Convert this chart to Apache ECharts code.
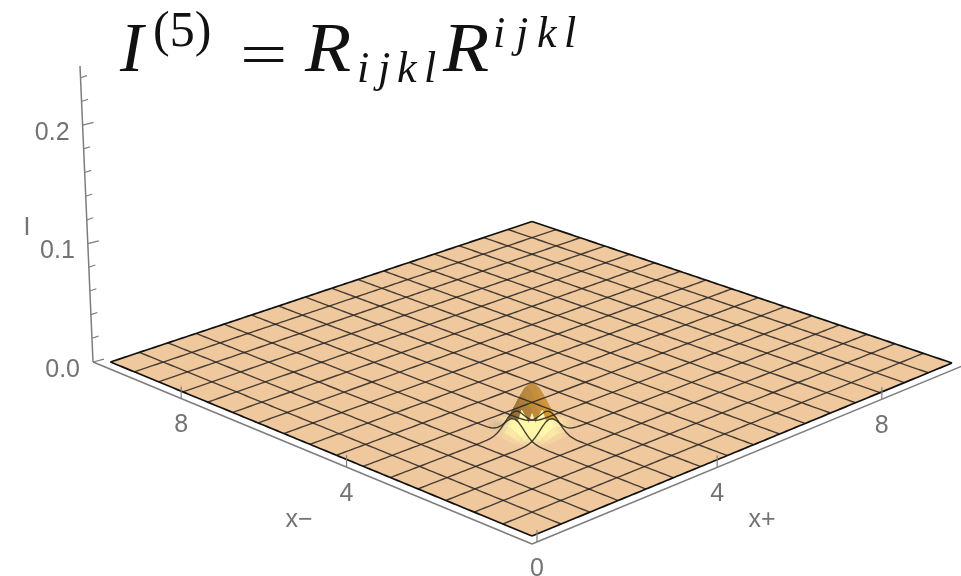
<!DOCTYPE html>
<html>
<head>
<meta charset="utf-8">
<style>
  html, body { margin: 0; padding: 0; background: #fff; }
  #chart { width: 961px; height: 576px; }
</style>
<script src="https://cdn.jsdelivr.net/npm/echarts@6/dist/echarts.min.js"></script>
</head>
<body>
<div id="chart"></div>
<script>
// values
const cellCount = 16;
const xMin = 0.1;
const xMax = 10.07;
const xPlusTicks = [0, 4, 8];
const xMinusTicks = [4, 8];
const zMinorTicks = [0.02, 0.04, 0.06, 0.08, 0.12, 0.14, 0.16, 0.18, 0.22, 0.24];
const zMajorTicks = [0, 0.1, 0.2];
const zTickLabels = ['0.0', '0.1', '0.2'];
const zAxisTop = 0.25;

// bump height in thousandths. Row = |i + j|, column = floor(|i - j| / 2),
// where i, j are steps of 1/8 cell from the bump centre
const bumpCentreCell = 4.5;
const bumpHeights = [
  [41.0, 37.2, 27.8, 17.1, 8.6, 3.6, 1.2, 0.3, 0.1],
  [38.3, 31.5, 21.3, 11.9, 5.4, 2.0, 0.6, 0.2],
  [34.4, 31.2, 23.3, 14.3, 7.2, 3.0, 1.0, 0.3, 0.1],
  [27.0, 22.2, 15.0, 8.4, 3.9, 1.4, 0.4, 0.1],
  [20.5, 18.6, 13.9, 8.5, 4.3, 1.8, 0.6, 0.2, 0],
  [13.5, 11.1, 7.5, 4.2, 1.9, 0.7, 0.2, 0.1],
  [8.6, 7.8, 5.8, 3.6, 1.8, 0.7, 0.3, 0.1, 0],
  [4.8, 3.9, 2.7, 1.5, 0.7, 0.3, 0.1, 0],
  [2.5, 2.3, 1.7, 1.0, 0.5, 0.2, 0.1, 0, 0],
  [1.2, 1.0, 0.7, 0.4, 0.2, 0.1, 0, 0],
  [0.5, 0.5, 0.4, 0.2, 0.1, 0, 0, 0, 0],
  [0.2, 0.2, 0.1, 0.1, 0, 0, 0, 0],
  [0.1, 0.1, 0.1, 0, 0, 0, 0, 0, 0]
];

// projection of the 3d box onto the flat page
const front = [532, 536], right = [952, 363], back = [532, 221.5], left = [110.5, 362];
const axisGap = 0.33;
const grey = '#7d7d7d';
const labelColor = '#737373';
const labelFont = '25px "Liberation Sans", sans-serif';
const baseColor = [240, 200, 158];

let sx = front[0] - right[0] + back[0] - left[0];
let sy = front[1] - right[1] + back[1] - left[1];
let dx1 = right[0] - back[0], dx2 = left[0] - back[0];
let dy1 = right[1] - back[1], dy2 = left[1] - back[1];
let den = dx1 * dy2 - dx2 * dy1;
let g = (sx * dy2 - dx2 * sy) / den;
let h = (dx1 * sy - sx * dy1) / den;
let a = right[0] - front[0] + g * right[0];
let b = left[0] - front[0] + h * left[0];
let d = right[1] - front[1] + g * right[1];
let e = left[1] - front[1] + h * left[1];

function heightAt(cu, cv) {
  let i = Math.round((cu - bumpCentreCell) * 8);
  let j = Math.round((cv - bumpCentreCell) * 8);
  let row = bumpHeights[Math.abs(i + j)];
  if (!row) return 0;
  let val = row[Math.floor(Math.abs(i - j) / 2)];
  return val ? val / 1000 : 0;
}

// cu, cv in mesh cells, z in plot units
function project(cu, cv, z) {
  let u = cu / cellCount, v = cv / cellCount;
  let w = g * u + h * v + 1;
  let zScale = 1184 * (h + 1) / w;
  return [
    (a * u + b * v + front[0]) / w,
    (d * u + e * v + front[1]) / w - z * zScale
  ];
}

function valueToCell(x) {
  return (x - xMin) / (xMax - xMin) * cellCount;
}

function zAxisPoint(z) {
  return [93 - 52 * z, 362 - 1184 * z];
}

function rgb(c) {
  return 'rgb(' + c.map(Math.round).join(',') + ')';
}

function mix(p, q, t) {
  t = Math.max(0, Math.min(1, t));
  return [p[0] + (q[0] - p[0]) * t, p[1] + (q[1] - p[1]) * t, p[2] + (q[2] - p[2]) * t];
}

// lighting of the bump: brown cap above, pale glow below, faint shadow on the left
function bumpColor(px, py, height) {
  let hh = height * 1000;
  if (py < 417) {
    let dark = px < 530 ? mix([118, 90, 50], [180, 132, 60], (px - 505) / 25)
      : mix([180, 132, 60], [222, 156, 56], (px - 530) / 22);
    dark = mix(dark, [205, 150, 70], (417 - py) / 60);
    return rgb(mix(baseColor, dark, hh / 5));
  }
  let glow = 1 - Math.hypot((px - 532) / 40, (py - 424) / 24);
  let pale = mix(baseColor, [255, 247, 170], glow * 1.9);
  let shade = 1 - Math.hypot((px - 499) / 13, (py - 425) / 8);
  if (shade > 0) pale = mix(pale, [175, 155, 135], shade * 0.5);
  return rgb(pale);
}

// data for the marks
let baseCells = [];
for (let i = 0; i < cellCount; i++) {
  for (let j = 0; j < cellCount; j++) baseCells.push([i, j]);
}
let bumpFacets = [];
for (let i = -14; i < 14; i++) {
  for (let j = -14; j < 14; j++) bumpFacets.push([i, j]);
}
bumpFacets.sort(function (p, q) { return (q[0] + q[1]) - (p[0] + p[1]); });

let meshLines = [];
for (let k = 1; k < cellCount; k++) {
  meshLines.push([0, k]);
  meshLines.push([1, k]);
}
let borderLines = [[0, 0], [0, cellCount], [1, 0], [1, cellCount]];

function meshPoints(family, k, api) {
  let pts = [];
  for (let s = 0; s <= cellCount * 8; s++) {
    let t = s / 8;
    let cu = family === 0 ? k : t;
    let cv = family === 0 ? t : k;
    pts.push(api.coord(project(cu, cv, heightAt(cu, cv))));
  }
  return pts;
}

function renderBase(params, api) {
  let i = api.value(0), j = api.value(1);
  let pts = [[i, j], [i + 1, j], [i + 1, j + 1], [i, j + 1]].map(function (c) {
    return api.coord(project(c[0], c[1], 0));
  });
  return {
    type: 'polygon',
    shape: { points: pts },
    style: { fill: rgb(baseColor), stroke: rgb(baseColor), lineWidth: 0.5 }
  };
}

function renderFacet(params, api) {
  let i = api.value(0), j = api.value(1);
  let corners = [[i, j], [i + 1, j], [i + 1, j + 1], [i, j + 1]];
  let sum = 0, px = 0, py = 0;
  let pts = corners.map(function (c) {
    let cu = bumpCentreCell + c[0] / 8, cv = bumpCentreCell + c[1] / 8;
    let z = heightAt(cu, cv);
    let p = project(cu, cv, z);
    sum += z; px += p[0]; py += p[1];
    return api.coord(p);
  });
  let color = bumpColor(px / 4, py / 4, sum / 4);
  return {
    type: 'polygon',
    shape: { points: pts },
    style: { fill: color, stroke: color, lineWidth: 0.8 }
  };
}

function renderMesh(params, api) {
  return {
    type: 'polyline',
    shape: { points: meshPoints(api.value(0), api.value(1), api) },
    style: { fill: null, stroke: 'rgba(40,36,32,0.85)', lineWidth: 1.4 }
  };
}

function renderBorder(params, api) {
  return {
    type: 'polyline',
    shape: { points: meshPoints(api.value(0), api.value(1), api) },
    style: { fill: null, stroke: '#111', lineWidth: 1.7 }
  };
}

function segment(api, p, q, width) {
  return {
    type: 'line',
    shape: { x1: p[0], y1: p[1], x2: q[0], y2: q[1] },
    style: { stroke: grey, lineWidth: width }
  };
}

function renderAxes(params, api) {
  let lo = -axisGap, hi = cellCount + axisGap;
  let corner = api.coord(project(lo, lo, 0));
  return {
    type: 'group',
    children: [
      segment(api, api.coord(project(hi, lo, 0)), corner, 1.5),
      segment(api, api.coord(project(lo, hi, 0)), corner, 1.5),
      segment(api, api.coord(zAxisPoint(0)), api.coord(zAxisPoint(zAxisTop)), 1.5)
    ]
  };
}

function tickText(text, x, y, align) {
  return {
    type: 'text',
    style: { text: text, x: x, y: y, fill: labelColor, font: labelFont, align: align, verticalAlign: 'middle' }
  };
}

function renderXTick(params, api) {
  let family = api.value(0), val = api.value(1);
  let c = valueToCell(val);
  let p = family === 0 ? project(c, -axisGap, 0) : project(-axisGap, c, 0);
  p = api.coord(p);
  return {
    type: 'group',
    children: [
      segment(api, p, [p[0], p[1] - 12], 1.2),
      tickText(String(val), p[0], p[1] + 27, 'center')
    ]
  };
}

function renderZMinor(params, api) {
  let p = api.coord(zAxisPoint(api.value(0)));
  return segment(api, p, [p[0] + 6.5, p[1] - 2.2], 1.1);
}

function renderZMajor(params, api) {
  let idx = api.value(0);
  let p = api.coord(zAxisPoint(zMajorTicks[idx]));
  return {
    type: 'group',
    children: [
      segment(api, p, [p[0] + 11, p[1] - 2.8], 1.2),
      tickText(zTickLabels[idx], p[0] - 13, p[1] + 8, 'right')
    ]
  };
}

function customSeries(data, renderItem) {
  return {
    type: 'custom',
    coordinateSystem: 'cartesian2d',
    data: data,
    renderItem: renderItem,
    silent: true,
    clip: false,
    animation: false,
    encode: { x: 0, y: 1 }
  };
}

const serif = '"Liberation Serif", "DejaVu Serif", serif';

function titleText(text, x, y, size, italic, scaleX) {
  return {
    type: 'text',
    x: x,
    y: y,
    scaleX: scaleX || 1,
    style: {
      text: text, fill: '#111',
      font: (italic ? 'italic ' : '') + size + 'px ' + serif,
      verticalAlign: 'middle'
    },
    silent: true
  };
}

function axisLabel(text, x, y) {
  return {
    type: 'text',
    style: { text: text, x: x, y: y, fill: labelColor, font: labelFont, align: 'center', verticalAlign: 'middle' },
    silent: true
  };
}

let chart = echarts.init(document.querySelector('#chart'));

chart.setOption({
  animation: false,
  backgroundColor: '#fff',
  grid: { left: 0, right: 0, top: 0, bottom: 0 },
  xAxis: { type: 'value', min: 0, max: 961, show: false },
  yAxis: { type: 'value', min: 0, max: 576, inverse: true, show: false },
  graphic: [
    titleText('I', 120, 53, 70, true),
    titleText('(5)', 153, 33, 50, false),
    titleText('=', 240, 58, 60, false, 1.4),
    titleText('R', 305, 53, 70, true, 1.08),
    titleText('i', 357, 70, 44, true),
    titleText('j', 378, 70, 44, true),
    titleText('k', 397, 70, 44, true),
    titleText('l', 424, 70, 44, true),
    titleText('R', 443, 53, 70, true, 1.08),
    titleText('i', 493, 35, 44, true),
    titleText('j', 516, 35, 44, true),
    titleText('k', 537, 35, 44, true),
    titleText('l', 564, 35, 44, true),
    axisLabel('I', 27, 228),
    axisLabel('x\u2212', 299, 520),
    axisLabel('x+', 762, 520)
  ],
  series: [
    customSeries(baseCells, renderBase),
    customSeries(bumpFacets, renderFacet),
    customSeries(meshLines, renderMesh),
    customSeries(borderLines, renderBorder),
    customSeries([[0]], renderAxes),
    customSeries(xPlusTicks.map(function (t) { return [0, t]; }).concat(xMinusTicks.map(function (t) { return [1, t]; })), renderXTick),
    customSeries(zMinorTicks.map(function (t) { return [t]; }), renderZMinor),
    customSeries(zMajorTicks.map(function (t, i) { return [i]; }), renderZMajor)
  ]
});
</script>
</body>
</html>
